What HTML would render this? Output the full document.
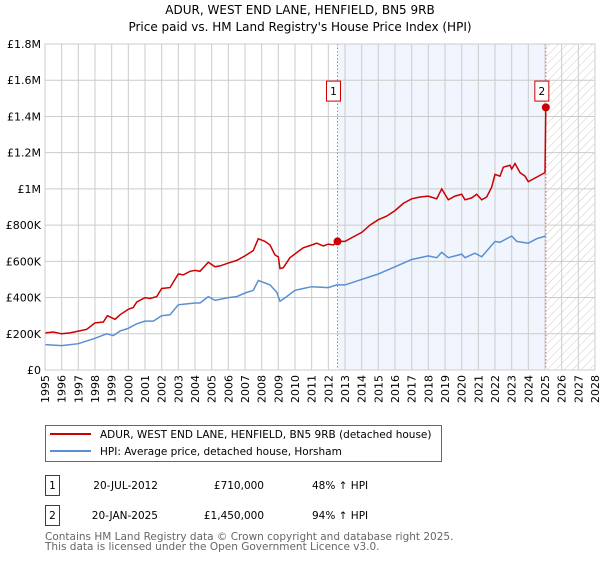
<!DOCTYPE html>
<html><head><meta charset="utf-8"><style>
body{margin:0;background:#fff;width:600px;height:560px;overflow:hidden;font-family:"DejaVu Sans","Liberation Sans",sans-serif;}
svg text{font-family:"DejaVu Sans","Liberation Sans",sans-serif;}
</style></head><body>
<svg id="chart" width="600" height="560" viewBox="0 0 600 560">
<defs>
<pattern id="hatch" width="6" height="6" patternUnits="userSpaceOnUse" patternTransform="rotate(45)">
<line x1="0" y1="0" x2="0" y2="6" stroke="#ccc" stroke-width="1"/>
</pattern>
</defs>
<text x="300" y="14" text-anchor="middle" font-size="12" fill="#000">ADUR, WEST END LANE, HENFIELD, BN5 9RB</text>
<text x="300" y="31" text-anchor="middle" font-size="12" fill="#000">Price paid vs. HM Land Registry's House Price Index (HPI)</text>
<g id="plot"></g>
<g>
<rect x="45.5" y="425.5" width="396" height="36" fill="#fff" stroke="#666"/>
<line x1="50" y1="434" x2="91" y2="434" stroke="#cc0000" stroke-width="2"/>
<text x="100" y="438" font-size="10.5">ADUR, WEST END LANE, HENFIELD, BN5 9RB (detached house)</text>
<line x1="50" y1="451" x2="91" y2="451" stroke="#5b8fd4" stroke-width="2"/>
<text x="100" y="455" font-size="10.5">HPI: Average price, detached house, Horsham</text>
</g>
<g>
<rect x="45.5" y="475.5" width="14" height="20" fill="#fff" stroke="#cc0000"/>
<text x="52.5" y="489" text-anchor="middle" font-size="10.5">1</text>
<text x="158" y="489" text-anchor="end" font-size="10.5">20-JUL-2012</text>
<text x="264" y="489" text-anchor="end" font-size="10.5">£710,000</text>
<text x="312" y="489" font-size="10.5">48% ↑ HPI</text>
<rect x="45.5" y="505.5" width="14" height="20" fill="#fff" stroke="#cc0000"/>
<text x="52.5" y="519" text-anchor="middle" font-size="10.5">2</text>
<text x="158" y="519" text-anchor="end" font-size="10.5">20-JAN-2025</text>
<text x="264" y="519" text-anchor="end" font-size="10.5">£1,450,000</text>
<text x="312" y="519" font-size="10.5">94% ↑ HPI</text>
</g>
<text x="45" y="540" font-size="10.5" fill="#666">Contains HM Land Registry data © Crown copyright and database right 2025.</text>
<text x="45" y="550" font-size="10.5" fill="#666">This data is licensed under the Open Government Licence v3.0.</text>
</svg>
<script>
const yTicks=[0,200000,400000,600000,800000,1000000,1200000,1400000,1600000,1800000];
const yTickLabels=["£0","£200K","£400K","£600K","£800K","£1M","£1.2M","£1.4M","£1.6M","£1.8M"];
const xYears=[1995,1996,1997,1998,1999,2000,2001,2002,2003,2004,2005,2006,2007,2008,2009,2010,2011,2012,2013,2014,2015,2016,2017,2018,2019,2020,2021,2022,2023,2024,2025,2026,2027,2028];
const saleDates=[2012.55,2025.05];
const salePrices=[710000,1450000];
const saleLabels=["1","2"];
const propT=[1995,1995.5,1996,1996.5,1997,1997.5,1998,1998.5,1998.75,1999.2,1999.5,2000,2000.3,2000.5,2001,2001.3,2001.7,2002,2002.5,2003,2003.3,2003.7,2004,2004.3,2004.8,2005.2,2005.5,2006,2006.5,2007,2007.5,2007.8,2008.2,2008.5,2008.8,2009.0,2009.1,2009.3,2009.7,2010.2,2010.5,2011,2011.3,2011.7,2012,2012.3,2012.55,2013,2013.5,2014,2014.5,2015,2015.5,2016,2016.5,2017,2017.5,2018,2018.5,2018.8,2019.2,2019.6,2020,2020.2,2020.6,2020.9,2021.2,2021.5,2021.8,2022,2022.3,2022.5,2022.9,2023,2023.2,2023.5,2023.8,2024,2024.5,2025.0,2025.05];
const propV=[205,210,200,205,215,225,260,265,300,280,305,335,345,375,400,395,405,450,455,530,525,545,550,545,595,570,575,590,605,630,660,725,710,690,635,625,560,565,620,655,675,690,700,685,695,690,710,710,735,760,800,830,850,880,920,945,955,960,945,1000,940,960,970,940,950,970,940,955,1010,1080,1070,1120,1130,1110,1140,1090,1070,1040,1065,1090,1450];
const hpiT=[1995,1996,1997,1998,1998.7,1999.1,1999.5,2000,2000.5,2001,2001.5,2002,2002.5,2003,2003.5,2004,2004.3,2004.8,2005.2,2006,2006.5,2007,2007.5,2007.8,2008.5,2008.9,2009.1,2009.5,2010,2010.5,2011,2012,2012.5,2013,2014,2015,2016,2017,2018,2018.5,2018.8,2019.2,2020,2020.2,2020.8,2021.2,2022,2022.3,2023,2023.3,2024,2024.5,2025.05];
const hpiV=[140,135,145,175,200,190,215,230,255,270,270,300,305,360,365,370,370,405,385,400,405,425,440,495,470,430,380,405,440,450,460,455,470,470,500,530,570,610,630,620,650,620,640,620,645,625,710,705,740,710,700,725,740];

const L=45,R=595,T=44,B=370;
const x=t=>L+(t-1995)/(2028-1995)*(R-L);
const y=v=>B-v/1800000*(B-T);
const NS="http://www.w3.org/2000/svg";
const g=document.getElementById('plot');
function mk(tag,attrs){const e=document.createElementNS(NS,tag);for(const k in attrs)e.setAttribute(k,attrs[k]);g.appendChild(e);return e;}
let e;
e=mk('rect',{x:x(saleDates[0]),y:T,width:x(saleDates[1])-x(saleDates[0]),height:B-T,fill:'#eef3fc',opacity:0.8});


e=mk('rect',{x:x(saleDates[1]),y:T,width:R-x(saleDates[1]),height:B-T,fill:'url(#hatch)'});


yTicks.forEach((v,i)=>{
 e=mk('line',{x1:L,x2:R,y1:y(v),y2:y(v),stroke:'#ccc','stroke-width':1});
 
 
 e=mk('text',{x:L-4,y:y(v)+4,'text-anchor':'end','font-size':11,fill:'#000'});
 e.textContent=yTickLabels[i];
 
 
});
xYears.forEach(yr=>{
 e=mk('line',{x1:x(yr),x2:x(yr),y1:T,y2:B,stroke:'#ccc','stroke-width':1});
 
 
 e=mk('text',{x:0,y:0,'font-size':11,fill:'#000','text-anchor':'end',transform:`translate(${x(yr)+4},${B+5}) rotate(-90)`});
 e.textContent=yr;
 
 
});
saleDates.forEach((d,i)=>{
 e=mk('line',{x1:x(d),x2:x(d),y1:T,y2:B,stroke:'#ee6666','stroke-width':1,'stroke-dasharray':'1.5,2'});
 
 
});
function path(ts,vs){return ts.map((t,i)=>(i?'L':'M')+x(t).toFixed(1)+','+y(vs[i]*1000).toFixed(1)).join('');}
e=mk('path',{d:path(hpiT,hpiV),fill:'none',stroke:'#5b8fd4','stroke-width':1.5});


e=mk('path',{d:path(propT,propV),fill:'none',stroke:'#cc0000','stroke-width':1.5});


saleDates.forEach((d,i)=>{
 e=mk('circle',{cx:x(d),cy:y(salePrices[i]),r:4,fill:'#cc0000'});
 
 
 e=mk('rect',{x:x(d)-11,y:y(1540000)-10,width:14,height:20,fill:'#fff',stroke:'#cc0000'});
 
 
 e=mk('text',{x:x(d)-4,y:y(1540000)+4,'text-anchor':'middle','font-size':10.5});
 e.textContent=saleLabels[i];
 
 
});
e=mk('rect',{x:L,y:T,width:R-L,height:B-T,fill:'none',stroke:'#ccc'});


</script>
</body></html>
